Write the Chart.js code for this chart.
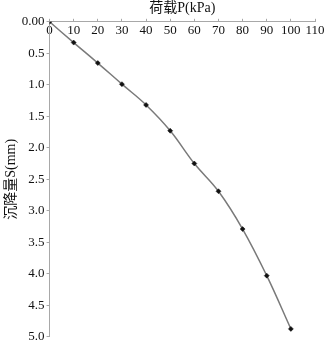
<!DOCTYPE html>
<html>
<head>
<meta charset="utf-8">
<script src="https://cdn.jsdelivr.net/npm/chart.js@4"></script>
<style>
  html, body { margin: 0; padding: 0; background: #fff; }
</style>
</head>
<body>
<canvas id="settleChart" width="328" height="342"></canvas>
<script>
// load P (kPa) vs settlement S (mm)
var loads = [0, 10, 20, 30, 40, 50, 60, 70, 80, 90, 100];
var settlements = [0, 0.33, 0.655, 0.99, 1.32, 1.73, 2.25, 2.69, 3.29, 4.03, 4.875];
var xTitle = '荷载P(kPa)';
var yTitle = '沉降量S(mm)';

var axisGrey = '#a8a8a8';
var serif = "'Liberation Serif', 'Noto Sans CJK SC', serif";

var points = loads.map(function (p, i) { return { x: p, y: settlements[i] }; });

var ctx = document.getElementById('settleChart').getContext('2d');
var settleChart = new Chart(ctx, {
  type: 'line',
  data: {
    datasets: [{
      data: points,
      borderColor: '#7a7a7a',
      borderWidth: 1.5,
      tension: 0.4,
      pointStyle: 'rectRot',
      pointRadius: 2.5,
      pointBackgroundColor: '#111',
      pointBorderColor: '#111',
      pointBorderWidth: 0.5
    }]
  },
  options: {
    responsive: false,
    animation: false,
    layout: {
      padding: { left: 3, right: 13, top: 0, bottom: 0 }
    },
    plugins: {
      legend: { display: false },
      tooltip: { enabled: false }
    },
    scales: {
      x: {
        type: 'linear',
        position: 'top',
        min: 0,
        max: 110,
        grid: { drawOnChartArea: false, drawTicks: true, tickLength: 3, color: axisGrey },
        border: { color: axisGrey },
        ticks: {
          stepSize: 10,
          mirror: true,
          padding: 1,
          maxRotation: 0,
          minRotation: 0,
          autoSkip: false,
          color: '#111',
          font: { family: serif, size: 13 }
        },
        title: {
          display: true,
          text: xTitle,
          color: '#111',
          padding: { top: 0, bottom: 0 },
          font: { family: serif, size: 14 }
        }
      },
      y: {
        type: 'linear',
        reverse: true,
        min: 0,
        max: 5,
        grid: { drawOnChartArea: false, drawTicks: true, tickLength: 3, color: axisGrey },
        border: { color: axisGrey },
        ticks: {
          stepSize: 0.5,
          padding: 2,
          color: '#111',
          font: { family: serif, size: 13, lineHeight: 0.5 },
          callback: function (v) { return v === 0 ? '0.00' : v.toFixed(1); }
        },
        title: {
          display: true,
          text: yTitle,
          color: '#111',
          padding: { top: 0, bottom: 0 },
          font: { family: serif, size: 14 }
        }
      }
    }
  }
});
</script>
</body>
</html>
